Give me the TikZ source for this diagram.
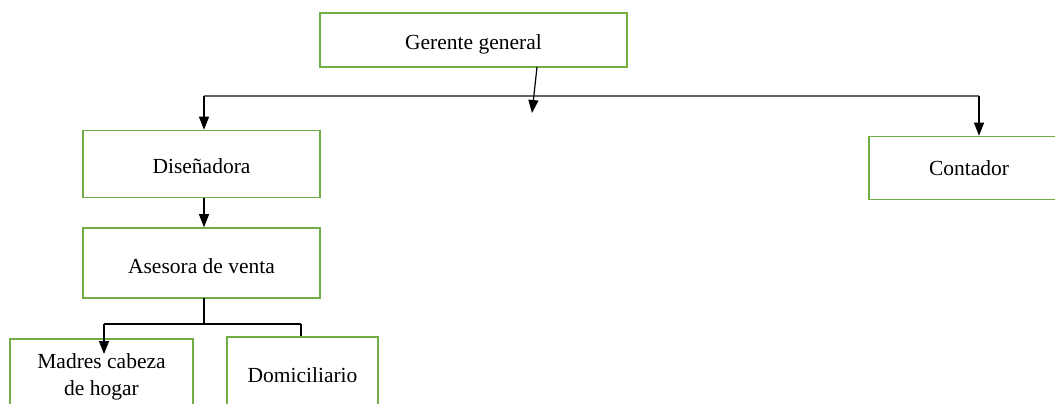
\documentclass[tikz,border=0pt]{standalone}
\usepackage{fontspec}
\setmainfont{Liberation Serif}
\usetikzlibrary{arrows.meta}
\definecolor{boxgreen}{RGB}{112,173,71}
\definecolor{busgray}{RGB}{100,100,100}
\tikzset{
  unit/.style={draw=boxgreen, line width=1.6pt, inner sep=0pt, align=center,
    font=\fontsize{21.5}{27}\selectfont},
  link/.style={draw=black, line width=1.2pt},
  arrowlink/.style={link, -{Triangle[width=10pt,length=13pt]}},
  bus/.style={draw=busgray, line width=1.2pt}
}
% lower the text inside a box while keeping its reported size
\newcommand{\lowered}[2][3pt]{\raisebox{-#1}[\height][\depth]{#2}}
\begin{document}
\begin{tikzpicture}[x=1pt,y=-1pt]
  \useasboundingbox (0,0) rectangle (1055,404);
  \clip (0,0) rectangle (1055,404);
  \fill[white] (0,0) rectangle (1055,404);

  % boxes
  \node[unit, minimum width=307pt, minimum height=54pt] (gg) at (473.5,40) {\lowered[4pt]{Gerente general}};
  \node[unit, minimum width=237pt, minimum height=67pt] (dis) at (201.5,164) {\lowered[2pt]{Diseñadora}};
  \node[unit, minimum width=237pt, minimum height=70pt] (ase) at (201.5,263) {\lowered[3pt]{Asesora de venta}};
  \node[unit, minimum width=200pt, minimum height=63pt] (cont) at (969,168) {Contador};
  \node[unit, minimum width=183pt, minimum height=76pt] (mad) at (101.5,377) {Madres cabeza\\de hogar};
  \node[unit, minimum width=151pt, minimum height=76pt] (dom) at (302.5,375) {Domiciliario};

  % upper distribution bus
  \coordinate (busL) at (204,96);
  \coordinate (busR) at (979,96);
  \draw[bus] (busL) -- (busR);
  \coordinate (ggout) at (537,67);
  \coordinate (ggtip) at (532,113);
  \draw[arrowlink] (ggout) -- (ggtip);
  \draw[arrowlink] (busL) -- (busL |- dis.north);
  \draw[arrowlink] (busR) -- (busR |- cont.north);

  % Diseñadora to Asesora
  \coordinate (disout) at (204,198);
  \draw[arrowlink] (disout) -- (disout |- ase.north);

  % lower branch
  \coordinate (aseout) at (204,298);
  \coordinate (lowmid) at (204,324);
  \coordinate (lowL) at (104,324);
  \coordinate (lowR) at (301,324);
  \coordinate (madtip) at (104,354);
  \draw[link] (aseout) -- (lowmid);
  \draw[link] (lowL) -- (lowR);
  \draw[arrowlink] (lowL) -- (madtip);
  \draw[link] (lowR) -- (lowR |- dom.north);
\end{tikzpicture}
\end{document}
